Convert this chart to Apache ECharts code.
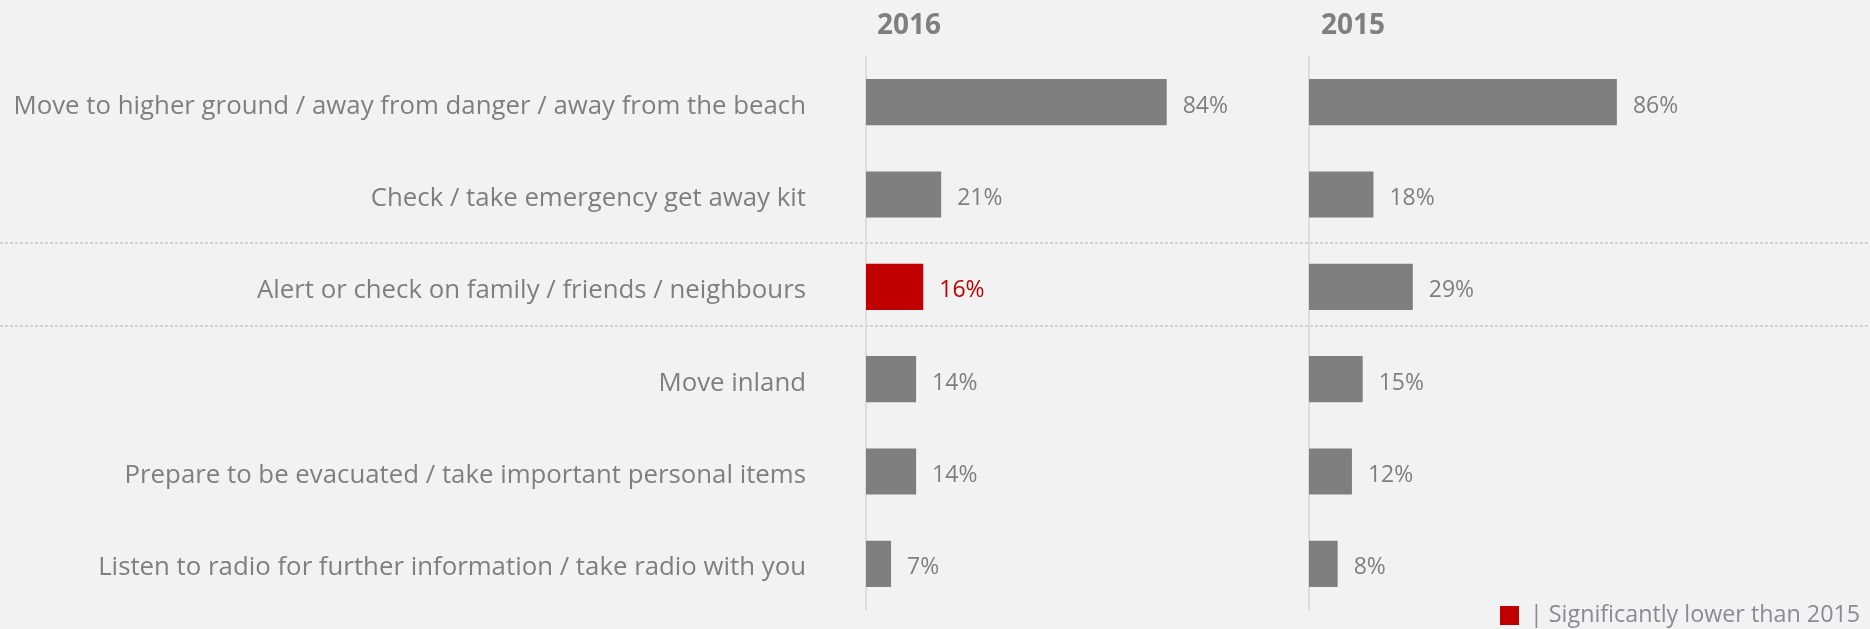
<!DOCTYPE html>
<html>
<head>
<meta charset="utf-8">
<script src="https://cdn.jsdelivr.net/npm/echarts@6/dist/echarts.min.js"></script>
<style>
html,body{margin:0;padding:0;background:#f2f2f2;}
#chart{width:1870px;height:629px;}
</style>
</head>
<body>
<div id="chart"></div>
<script>
const categories = [
  "Move to higher ground / away from danger / away from the beach",
  "Check / take emergency get away kit",
  "Alert or check on family / friends / neighbours",
  "Move inland",
  "Prepare to be evacuated / take important personal items",
  "Listen to radio for further information / take radio with you"
];
const values2016 = [84, 21, 16, 14, 14, 7];
const values2015 = [86, 18, 29, 15, 12, 8];
const significantLower2016 = [false, false, true, false, false, false];
const panelTitles = ["2016", "2015"];
const legendText = "| Significantly lower than 2015";

const GREY = '#7f7f7f', RED = '#c00000', TXT = '#7f7f7f';
const FONT = '"Open Sans", sans-serif';

function seriesData(vals, flags) {
  return vals.map((v, i) => {
    const sig = flags && flags[i];
    return {
      value: v,
      itemStyle: { color: sig ? RED : GREY },
      label: { color: sig ? RED : TXT }
    };
  });
}

const chart = echarts.init(document.getElementById('chart'), null, { renderer: 'canvas' });
const gridTop = 56, gridBottom = 19;
const barLabel = { show: true, position: 'right', distance: 16, offset: [0, 4], formatter: '{c}%', fontSize: 23, fontFamily: FONT };
const option = {
  backgroundColor: '#f2f2f2',
  animation: false,
  textStyle: { fontFamily: FONT },
  title: [
    { text: panelTitles[0], left: 872, top: 7, textStyle: { fontFamily: FONT, fontSize: 28, fontWeight: 'bold', color: TXT } },
    { text: panelTitles[1], left: 1316, top: 7, textStyle: { fontFamily: FONT, fontSize: 28, fontWeight: 'bold', color: TXT } }
  ],
  grid: [
    { left: 866, width: 358, top: gridTop, bottom: gridBottom },
    { left: 1309, width: 358, top: gridTop, bottom: gridBottom }
  ],
  xAxis: [
    { gridIndex: 0, type: 'value', min: 0, max: 100, show: false },
    { gridIndex: 1, type: 'value', min: 0, max: 100, show: false }
  ],
  yAxis: [
    { gridIndex: 0, type: 'category', data: categories, inverse: true,
      axisLine: { show: true, lineStyle: { color: '#d6d6d6', width: 1.5 } },
      axisTick: { show: false },
      axisLabel: { margin: 60, color: TXT, fontFamily: FONT, fontSize: 26,
        formatter: v => '{c|' + v + '}',
        rich: { c: { fontSize: 25.8, color: TXT, fontFamily: FONT, padding: [8, 0, 0, 0] } } } },
    { gridIndex: 1, type: 'category', data: categories, inverse: true,
      axisLine: { show: true, lineStyle: { color: '#d6d6d6', width: 1.5 } },
      axisTick: { show: false }, axisLabel: { show: false } }
  ],
  series: [
    { type: 'bar', xAxisIndex: 0, yAxisIndex: 0, barWidth: '50%',
      data: seriesData(values2016, significantLower2016), label: barLabel },
    { type: 'bar', xAxisIndex: 1, yAxisIndex: 1, barWidth: '50%',
      data: seriesData(values2015, null), label: barLabel }
  ],
  graphic: [
    { type: 'line', shape: { x1: 0, y1: 243, x2: 1870, y2: 243 }, style: { stroke: '#b0b0b0', lineWidth: 1, lineDash: [3, 2] }, z: -1 },
    { type: 'line', shape: { x1: 0, y1: 326, x2: 1870, y2: 326 }, style: { stroke: '#b0b0b0', lineWidth: 1, lineDash: [3, 2] }, z: -1 },
    { type: 'rect', shape: { x: 1500, y: 606, width: 19, height: 19 }, style: { fill: RED } },
    { type: 'text', x: 1530, y: 615, style: { text: legendText, fill: '#8a8a96', fontSize: 23.3, fontFamily: FONT, verticalAlign: 'middle' } }
  ]
};
chart.setOption(option);
</script>
</body>
</html>
